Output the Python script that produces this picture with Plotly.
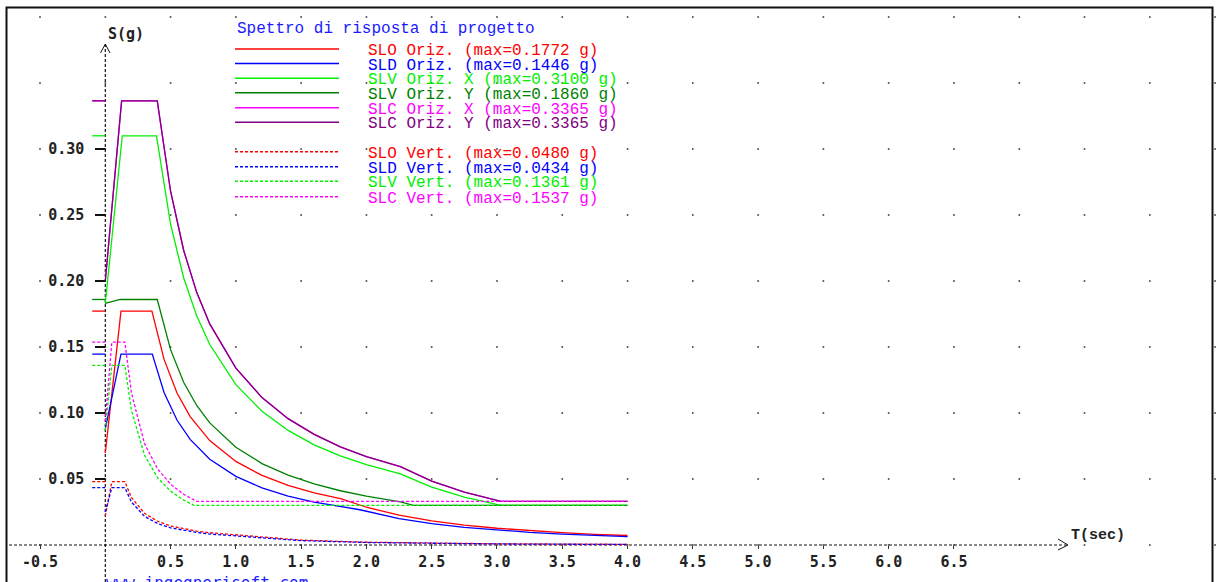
import plotly.graph_objects as go

# ---------------------------------------------------------------------------
# Canvas and axis ranges (period T in seconds, spectral acceleration S in g)
# ---------------------------------------------------------------------------
W, H = 1219, 582
T_MIN, T_MAX = -0.8065, 8.530
S_MIN, S_MAX = -0.02803, 0.41288


def t_at(px):
    return T_MIN + px / W * (T_MAX - T_MIN)


def s_at(py):
    return S_MAX - py / H * (S_MAX - S_MIN)


def paper_x(px):
    return px / W


def paper_y(py):
    return 1 - py / H


# ---------------------------------------------------------------------------
# Design response spectra - horizontal components
# ---------------------------------------------------------------------------
slo_oriz_t = [0, 0.12, 0.357, 0.45, 0.55, 0.65, 0.8, 1.0, 1.2, 1.4, 1.6, 1.81,
              2.0, 2.25, 2.5, 2.75, 3.0, 3.25, 3.5, 3.75, 4.0]
slo_oriz_s = [0.0697, 0.1772, 0.1772, 0.1406, 0.1150, 0.0973, 0.0791, 0.0633,
              0.0527, 0.0452, 0.0395, 0.0350, 0.0286, 0.0226, 0.0183, 0.0151,
              0.0127, 0.0108, 0.0093, 0.0081, 0.0072]

sld_oriz_t = [0, 0.12, 0.36, 0.45, 0.55, 0.65, 0.8, 1.0, 1.2, 1.4, 1.6, 1.8,
              1.95, 2.25, 2.5, 2.75, 3.0, 3.25, 3.5, 3.75, 4.0]
sld_oriz_s = [0.088, 0.1446, 0.1446, 0.1156, 0.0945, 0.0800, 0.0650, 0.0520,
              0.0433, 0.0371, 0.0325, 0.0289, 0.0267, 0.0200, 0.0162, 0.0134,
              0.0113, 0.0096, 0.0083, 0.0072, 0.0063]

slv_oriz_x_t = [0, 0.13, 0.392, 0.5, 0.6, 0.7, 0.8, 1.0, 1.2, 1.4, 1.6, 1.8,
                2.0, 2.26, 2.5, 2.75, 3.03, 4.0]
slv_oriz_x_s = [0.183, 0.3100, 0.3100, 0.2430, 0.2025, 0.1736, 0.1519, 0.1215,
                0.1013, 0.0868, 0.0759, 0.0675, 0.0608, 0.0538, 0.0439, 0.0363,
                0.0300, 0.0300]

slv_oriz_y_t = [0, 0.113, 0.398, 0.5, 0.6, 0.7, 0.8, 1.0, 1.2, 1.4, 1.6, 1.8,
                2.0, 2.26, 2.36, 4.0]
slv_oriz_y_s = [0.183, 0.1860, 0.1860, 0.1480, 0.1233, 0.1057, 0.0925, 0.0740,
                0.0617, 0.0529, 0.0463, 0.0411, 0.0370, 0.0327, 0.0300, 0.0300]

slc_oriz_x_t = [0, 0.125, 0.398, 0.5, 0.6, 0.7, 0.8, 1.0, 1.2, 1.4, 1.6, 1.8,
                2.0, 2.26, 2.5, 2.75, 3.03, 4.0]
slc_oriz_x_s = [0.200, 0.3365, 0.3365, 0.2680, 0.2233, 0.1914, 0.1675, 0.1340,
                0.1117, 0.0957, 0.0838, 0.0744, 0.0670, 0.0593, 0.0484, 0.0400,
                0.0330, 0.0330]

slc_oriz_y_t = [0, 0.125, 0.398, 0.5, 0.6, 0.7, 0.8, 1.0, 1.2, 1.4, 1.6, 1.8,
                2.0, 2.26, 2.5, 2.75, 3.03, 4.0]
slc_oriz_y_s = [0.200, 0.3365, 0.3365, 0.2680, 0.2233, 0.1914, 0.1675, 0.1340,
                0.1117, 0.0957, 0.0838, 0.0744, 0.0670, 0.0593, 0.0484, 0.0400,
                0.0330, 0.0330]

# ---------------------------------------------------------------------------
# Design response spectra - vertical components
# ---------------------------------------------------------------------------
vert_t = [0, 0.05, 0.15, 0.2, 0.3, 0.4, 0.5, 0.6, 0.7, 0.8, 1.0, 1.2, 1.5,
          2.0, 2.5, 3.0, 3.5, 4.0]
slo_vert_s = [0.022, 0.0480, 0.0480, 0.0360, 0.0240, 0.0180, 0.0144, 0.0122,
              0.0105, 0.0093, 0.0077, 0.0056, 0.0037, 0.0021, 0.0013, 0.0009,
              0.0007, 0.0005]
sld_vert_s = [0.025, 0.0434, 0.0434, 0.0326, 0.0217, 0.0163, 0.0130, 0.0110,
              0.0095, 0.0083, 0.0069, 0.0050, 0.0033, 0.0019, 0.0012, 0.0008,
              0.0006, 0.0004]

slv_vert_t = [0, 0.05, 0.15, 0.2, 0.3, 0.4, 0.5, 0.6, 0.68, 4.0]
slv_vert_s = [0.087, 0.1361, 0.1361, 0.1021, 0.0681, 0.0510, 0.0408, 0.0340,
              0.0300, 0.0300]

slc_vert_t = [0, 0.05, 0.15, 0.2, 0.3, 0.4, 0.5, 0.6, 0.7, 4.0]
slc_vert_s = [0.094, 0.1537, 0.1537, 0.1153, 0.0769, 0.0577, 0.0461, 0.0384,
              0.0330, 0.0330]

# ---------------------------------------------------------------------------
# Axis ticks
# ---------------------------------------------------------------------------
x_tick_vals = [-0.5, 0.5, 1.0, 1.5, 2.0, 2.5, 3.0, 3.5, 4.0, 4.5, 5.0, 5.5, 6.0, 6.5]
x_tick_text = ["-0.5", "0.5", "1.0", "1.5", "2.0", "2.5", "3.0", "3.5", "4.0",
               "4.5", "5.0", "5.5", "6.0", "6.5"]
y_tick_vals = [0.05, 0.10, 0.15, 0.20, 0.25, 0.30]
y_tick_text = ["0.05", "0.10", "0.15", "0.20", "0.25", "0.30"]

grid_t = [-0.5 + 0.5 * i for i in range(19)]
grid_s = [0.05 * i for i in range(9)]

RED, BLUE, LIME, GREEN, MAGENTA, PURPLE = (
    "#ff0000", "#0000ff", "#00f000", "#008000", "#ff00ff", "#800080")
DASH = "3px,2px"

series = [
    # name, T, S, colour, dashed
    ("SLO Oriz.", slo_oriz_t, slo_oriz_s, RED, False),
    ("SLD Oriz.", sld_oriz_t, sld_oriz_s, BLUE, False),
    ("SLV Oriz. X", slv_oriz_x_t, slv_oriz_x_s, LIME, False),
    ("SLV Oriz. Y", slv_oriz_y_t, slv_oriz_y_s, GREEN, False),
    ("SLC Oriz. X", slc_oriz_x_t, slc_oriz_x_s, MAGENTA, False),
    ("SLC Oriz. Y", slc_oriz_y_t, slc_oriz_y_s, PURPLE, False),
    ("SLO Vert.", vert_t, slo_vert_s, RED, True),
    ("SLD Vert.", vert_t, sld_vert_s, BLUE, True),
    ("SLV Vert.", slv_vert_t, slv_vert_s, LIME, True),
    ("SLC Vert.", slc_vert_t, slc_vert_s, MAGENTA, True),
]

fig = go.Figure()

# dotted background grid
gx, gy = [], []
for s in grid_s:
    for t in grid_t:
        gx.append(t)
        gy.append(s)
fig.add_trace(go.Scatter(x=gx, y=gy, mode="markers", hoverinfo="skip",
                         marker=dict(size=2, color="#555555", line=dict(width=0))))

# dashed axes with open arrow heads
AX = dict(color="#111111", width=1.2, dash=DASH)
fig.add_trace(go.Scatter(x=[t_at(9), t_at(1067)], y=[0, 0], mode="lines",
                         line=AX, hoverinfo="skip"))
fig.add_trace(go.Scatter(x=[0, 0], y=[S_MIN, s_at(45)], mode="lines",
                         line=AX, hoverinfo="skip"))
fig.add_trace(go.Scatter(x=[t_at(1058), t_at(1068), t_at(1058)],
                         y=[s_at(539), 0, s_at(550)], mode="lines",
                         line=dict(color="#111111", width=1), hoverinfo="skip"))
fig.add_trace(go.Scatter(x=[t_at(100.5), 0, t_at(110)],
                         y=[s_at(53), s_at(44), s_at(53)], mode="lines",
                         line=dict(color="#111111", width=1), hoverinfo="skip"))

# spectra curves and their peak markers on the S axis
for name, t, s, col, dashed in series:
    style = dict(color=col, width=1.3, dash=DASH if dashed else "solid")
    fig.add_trace(go.Scatter(x=t, y=s, mode="lines", line=style, name=name))
    peak = max(s)
    fig.add_trace(go.Scatter(x=[-0.1, 0.0], y=[peak, peak], mode="lines",
                             line=style, hoverinfo="skip"))

# legend drawn as a block of samples and labels
legend_rows_py = [49, 63.5, 78.3, 92.7, 107.7, 122.3, 151.7, 166.7, 181.3, 196.7]
shapes = []
annotations = []
for (name, t, s, col, dashed), py in zip(series, legend_rows_py):
    shapes.append(dict(type="line", xref="paper", yref="paper",
                       x0=paper_x(235), x1=paper_x(339),
                       y0=paper_y(py), y1=paper_y(py),
                       line=dict(color=col, width=1.4, dash=DASH if dashed else "solid")))
    annotations.append(dict(xref="paper", yref="paper", x=paper_x(366), y=paper_y(py + 2),
                            xanchor="left", yanchor="middle", showarrow=False,
                            text=f"{name} (max={max(s):.4f} g)".replace(" ", "&nbsp;"),
                            font=dict(family="Liberation Mono", size=16, color=col)))

annotations.append(dict(xref="paper", yref="paper", x=paper_x(235), y=paper_y(29),
                        xanchor="left", yanchor="middle", showarrow=False,
                        text="Spettro di risposta di progetto",
                        font=dict(family="Liberation Mono", size=16, color="#1a1aff")))
annotations.append(dict(xref="paper", yref="paper", x=paper_x(106), y=paper_y(34),
                        xanchor="left", yanchor="middle", showarrow=False,
                        text="S(g)",
                        font=dict(family="DejaVu Sans Mono", size=15, color="#222222",
                                  weight="bold")))
annotations.append(dict(xref="paper", yref="paper", x=paper_x(1069), y=paper_y(535),
                        xanchor="left", yanchor="middle", showarrow=False,
                        text="T(sec)",
                        font=dict(family="Liberation Mono", size=15, color="#222222",
                                  weight="bold")))
annotations.append(dict(xref="paper", yref="paper", x=paper_x(104), y=paper_y(571),
                        xanchor="left", yanchor="top", showarrow=False,
                        text="www.ingegnerisoft.com",
                        font=dict(family="DejaVu Sans Mono", size=16, color="#2222ff")))

# window frame
shapes.append(dict(type="path", xref="paper", yref="paper",
                   path=f"M {paper_x(6.5)},{paper_y(600)} L {paper_x(6.5)},{paper_y(7.5)} "
                        f"L {paper_x(1212.5)},{paper_y(7.5)} L {paper_x(1212.5)},{paper_y(600)}",
                   line=dict(color="#111111", width=2)))

tick_font = dict(family="DejaVu Sans Mono", size=15, color="#222222", weight="bold")

fig.update_layout(
    width=W, height=H,
    margin=dict(l=0, r=0, t=0, b=0, pad=0),
    paper_bgcolor="white", plot_bgcolor="white",
    showlegend=False,
    shapes=shapes,
    annotations=annotations,
    xaxis=dict(range=[T_MIN, T_MAX], domain=[0, 1], anchor="free",
               position=(0 - S_MIN) / (S_MAX - S_MIN),
               showgrid=False, zeroline=False, showline=False,
               tickmode="array", tickvals=x_tick_vals, ticktext=x_tick_text,
               ticks="outside", ticklen=3, tickwidth=1, tickcolor="#333333",
               tickfont=tick_font, automargin=False, fixedrange=True),
    yaxis=dict(range=[S_MIN, S_MAX], domain=[0, 1], anchor="free",
               position=(0 - T_MIN) / (T_MAX - T_MIN),
               showgrid=False, zeroline=False, showline=False,
               tickmode="array", tickvals=y_tick_vals, ticktext=y_tick_text,
               ticks="outside", ticklen=10, tickwidth=1.5, tickcolor="#111111",
               ticklabelstandoff=8,
               tickfont=tick_font, automargin=False, fixedrange=True),
)

fig.write_html("out.html")
